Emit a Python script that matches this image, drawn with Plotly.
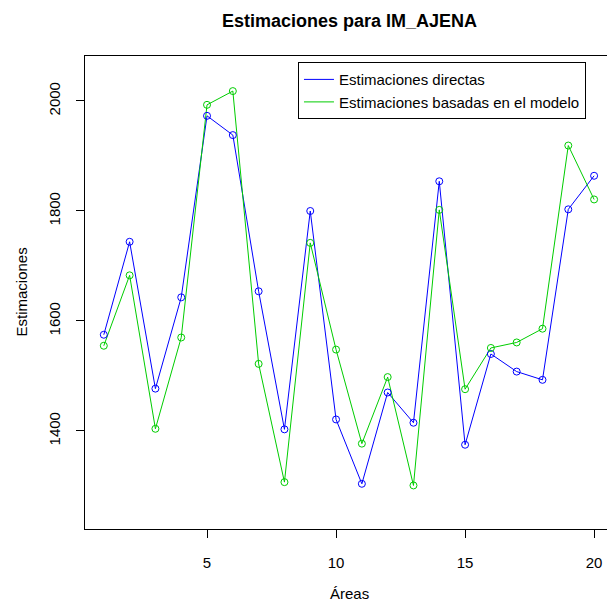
import plotly.graph_objects as go

# Small areas 1..20
areas = list(range(1, 21))

# Direct estimates per area
directas = [1575, 1744, 1477, 1643, 1973, 1938, 1654, 1403, 1800, 1421,
            1304, 1470, 1415, 1854, 1375, 1540, 1508, 1493, 1803, 1864]

# Model-based estimates per area
modelo = [1555, 1683, 1404, 1570, 1993, 2018, 1522, 1307, 1742, 1548,
          1377, 1498, 1301, 1802, 1476, 1551, 1561, 1586, 1919, 1821]

x_ticks = [5, 10, 15, 20]
y_ticks = [1400, 1600, 1800, 2000]

series = [
    ("Estimaciones directas", directas, "#0000FF"),
    ("Estimaciones basadas en el modelo", modelo, "#00CD00"),
]

FONT = "Liberation Sans, Arial, Helvetica, sans-serif"

fig = go.Figure()
# connecting lines first (these carry the legend entries, line only)
for name, values, color in series:
    fig.add_trace(go.Scatter(
        x=areas, y=values, mode="lines", name=name,
        line=dict(color=color, width=1),
    ))
# open circles at each area
for name, values, color in series:
    fig.add_trace(go.Scatter(
        x=areas, y=values, mode="markers", name=name, showlegend=False,
        marker=dict(symbol="circle-open", size=7, color=color, line=dict(width=1)),
    ))

fig.update_layout(
    width=607, height=605,
    margin=dict(l=85, r=0, t=56, b=76),
    paper_bgcolor="white", plot_bgcolor="white",
    font=dict(family=FONT, size=15, color="black"),
    showlegend=True,
    legend=dict(
        x=0.408, y=0.987, xanchor="left", yanchor="top",
        bgcolor="white", bordercolor="black", borderwidth=1,
        tracegroupgap=0,
        font=dict(family=FONT, size=15, color="black"),
        itemclick=False, itemdoubleclick=False,
    ),
    xaxis=dict(
        range=[0.271, 20.5], tickvals=x_ticks, ticktext=[str(v) for v in x_ticks],
        showgrid=False, zeroline=False, showline=True, linecolor="black", linewidth=1,
        mirror=True, ticks="outside", ticklen=8, tickcolor="black", tickwidth=1,
        ticklabelstandoff=12, tickfont=dict(size=15),
    ),
    yaxis=dict(
        range=[1221.8, 2081.8], tickvals=y_ticks, ticktext=[str(v) for v in y_ticks],
        showgrid=False, zeroline=False, showline=True, linecolor="black", linewidth=1,
        ticks="outside", ticklen=8, tickcolor="black", tickwidth=1,
        tickangle=-90, ticklabelstandoff=10, tickfont=dict(size=15),
    ),
    annotations=[
        dict(text="<b>Estimaciones para IM_AJENA</b>", xref="paper", yref="paper",
             x=0.5063, y=1.074, xanchor="center", yanchor="middle", showarrow=False,
             font=dict(size=18)),
        dict(text="Áreas", xref="paper", yref="paper",
             x=0.5063, y=-0.1374, xanchor="center", yanchor="middle", showarrow=False,
             font=dict(size=15)),
        dict(text="Estimaciones", xref="paper", yref="paper",
             x=-0.1226, y=0.5, xanchor="center", yanchor="middle", showarrow=False,
             textangle=-90, font=dict(size=15)),
    ],
)

fig.write_html("out.html")
